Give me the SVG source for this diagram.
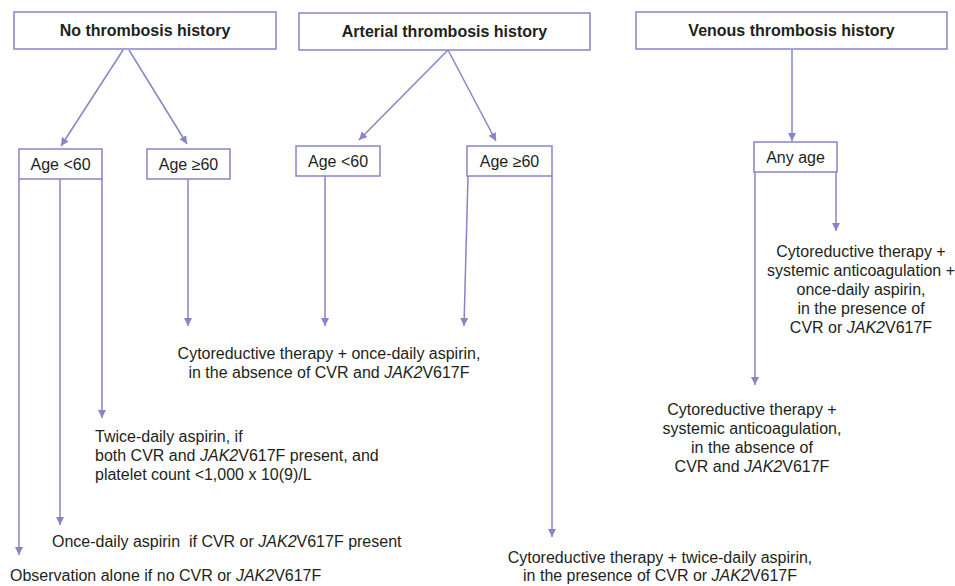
<svg xmlns="http://www.w3.org/2000/svg" width="955" height="586" viewBox="0 0 955 586">
<defs>
<style>
.box{fill:#fff;stroke:#8585c8;stroke-width:1.5}
.ln{fill:none;stroke:#8585c8;stroke-width:1.5}
.t{font-family:"Liberation Sans",Arial,sans-serif;font-size:16px;fill:#231f20}
.b{font-weight:bold}
.m{text-anchor:middle}
.i{font-style:italic}
</style>
<marker id="ah" markerUnits="userSpaceOnUse" markerWidth="10" markerHeight="10" refX="8" refY="4" orient="auto">
<path d="M0,0 L8,4 L0,8 Z" fill="#8585c8"/>
</marker>
</defs>
<rect width="955" height="586" fill="#fff"/>
<g id="connectors">
<line class="ln" x1="123" y1="50" x2="61" y2="146" marker-end="url(#ah)"/>
<line class="ln" x1="129" y1="50" x2="187" y2="144" marker-end="url(#ah)"/>
<line class="ln" x1="448" y1="50" x2="359" y2="140" marker-end="url(#ah)"/>
<line class="ln" x1="448" y1="50" x2="496" y2="141" marker-end="url(#ah)"/>
<line class="ln" x1="792" y1="50" x2="792" y2="141" marker-end="url(#ah)"/>
<line class="ln" x1="102" y1="179" x2="102" y2="418" marker-end="url(#ah)"/>
<line class="ln" x1="60" y1="179" x2="60" y2="525" marker-end="url(#ah)"/>
<line class="ln" x1="19" y1="179" x2="19" y2="555" marker-end="url(#ah)"/>
<line class="ln" x1="188" y1="179" x2="188" y2="326" marker-end="url(#ah)"/>
<line class="ln" x1="325" y1="176" x2="325" y2="326" marker-end="url(#ah)"/>
<line class="ln" x1="468" y1="176" x2="464" y2="326" marker-end="url(#ah)"/>
<line class="ln" x1="552" y1="176" x2="552" y2="537" marker-end="url(#ah)"/>
<line class="ln" x1="836" y1="172" x2="836" y2="231" marker-end="url(#ah)"/>
<line class="ln" x1="755" y1="172" x2="755" y2="385" marker-end="url(#ah)"/>
</g>
<g id="n-no">
<rect class="box" x="14" y="12" width="262" height="37"/>
<text class="t b m" x="145" y="36">No thrombosis history</text>
</g>
<g id="n-art">
<rect class="box" x="299" y="13" width="291" height="37"/>
<text class="t b m" x="444.5" y="37">Arterial thrombosis history</text>
</g>
<g id="n-ven">
<rect class="box" x="636" y="12" width="311" height="37"/>
<text class="t b m" x="791.5" y="36">Venous thrombosis history</text>
</g>
<g id="n-no-lt60">
<rect class="box" x="19" y="149" width="83" height="30"/>
<text class="t m" x="60.5" y="170">Age &lt;60</text>
</g>
<g id="n-no-ge60">
<rect class="box" x="147" y="149" width="83" height="30"/>
<text class="t m" x="188.5" y="170">Age ≥60</text>
</g>
<g id="n-art-lt60">
<rect class="box" x="296" y="146" width="84" height="30"/>
<text class="t m" x="338" y="167">Age &lt;60</text>
</g>
<g id="n-art-ge60">
<rect class="box" x="467" y="146" width="85" height="30"/>
<text class="t m" x="509.5" y="167">Age ≥60</text>
</g>
<g id="n-anyage">
<rect class="box" x="754" y="142" width="83" height="30"/>
<text class="t m" x="795.5" y="163">Any age</text>
</g>
<g id="r-twice">
<text class="t" x="95" y="442">Twice-daily aspirin, if</text>
<text class="t" x="95" y="461">both CVR and <tspan class="i">JAK2</tspan>V617F present, and</text>
<text class="t" x="95" y="480">platelet count &lt;1,000 x 10(9)/L</text>
</g>
<g id="r-once">
<text class="t" x="52" y="547" xml:space="preserve">Once-daily aspirin  if CVR or <tspan class="i">JAK2</tspan>V617F present</text>
</g>
<g id="r-obs">
<text class="t" x="10" y="581">Observation alone if no CVR or <tspan class="i">JAK2</tspan>V617F</text>
</g>
<g id="r-cyto-twice">
<text class="t m" x="660" y="563">Cytoreductive therapy + twice-daily aspirin,</text>
<text class="t m" x="660" y="581">in the presence of CVR or <tspan class="i">JAK2</tspan>V617F</text>
</g>
<g id="r-cyto-once">
<text class="t m" x="329" y="359">Cytoreductive therapy + once-daily aspirin,</text>
<text class="t m" x="329" y="378">in the absence of CVR and <tspan class="i">JAK2</tspan>V617F</text>
</g>
<g id="r-ven-presence">
<text class="t m" x="861" y="257">Cytoreductive therapy +</text>
<text class="t m" x="861" y="276">systemic anticoagulation +</text>
<text class="t m" x="861" y="295">once-daily aspirin,</text>
<text class="t m" x="861" y="314">in the presence of</text>
<text class="t m" x="861" y="333">CVR or <tspan class="i">JAK2</tspan>V617F</text>
</g>
<g id="r-ven-absence">
<text class="t m" x="752" y="415">Cytoreductive therapy +</text>
<text class="t m" x="752" y="434">systemic anticoagulation,</text>
<text class="t m" x="752" y="453">in the absence of</text>
<text class="t m" x="752" y="472">CVR and <tspan class="i">JAK2</tspan>V617F</text>
</g>
</svg>
